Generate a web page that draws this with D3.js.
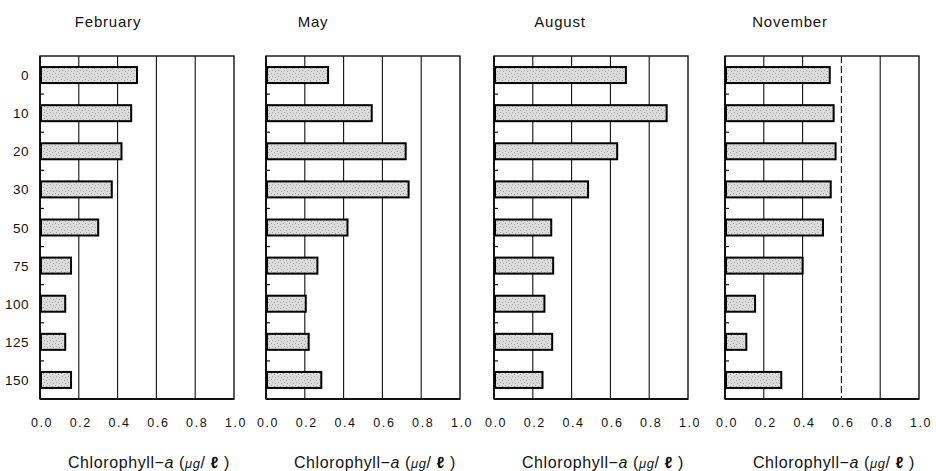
<!DOCTYPE html>
<html>
<head>
<meta charset="utf-8">
<script src="https://cdn.jsdelivr.net/npm/d3@7"></script>
<style>
  body { margin: 0; background: #fff; }
  svg { display: block; }
</style>
</head>
<body>
<div class="container"></div>
<script>
// Data: depth (m) and chlorophyll-a per month
const depths = ["0", "10", "20", "30", "50", "75", "100", "125", "150"];
const months = ["February", "May", "August", "November"];
const february = [0.50, 0.47, 0.42, 0.37, 0.30, 0.16, 0.13, 0.13, 0.16];
const may      = [0.32, 0.545, 0.72, 0.735, 0.42, 0.265, 0.205, 0.22, 0.285];
const august   = [0.68, 0.89, 0.635, 0.485, 0.295, 0.305, 0.26, 0.30, 0.25];
const november = [0.54, 0.56, 0.57, 0.545, 0.505, 0.40, 0.155, 0.11, 0.29];
const xTicks = [0, 0.2, 0.4, 0.6, 0.8, 1.0];

const series = [february, may, august, november];

// Layout
const W = 936, H = 471;
const panelLeft = [40, 266, 494, 725];
const titleX = [108, 313, 560, 790];
const panelW = 194;
const plotTop = 56, plotBottom = 399;

const svg = d3.select(".container")
  .append("svg")
    .attr("width", W)
    .attr("height", H);

// Stipple pattern for the bars
const pat = svg.append("defs").append("pattern")
    .attr("id", "stipple")
    .attr("width", 6)
    .attr("height", 6)
    .attr("patternUnits", "userSpaceOnUse");
pat.append("rect").attr("width", 6).attr("height", 6).attr("fill", "#dcdcdc");
[[1, 1], [4, 2], [2, 4], [5, 5]].forEach(p => {
  pat.append("rect").attr("x", p[0]).attr("y", p[1])
    .attr("width", 1).attr("height", 1).attr("fill", "#a0a0a0");
});

const yScale = d3.scaleBand()
  .domain(depths)
  .range([plotTop, plotBottom])
  .paddingInner(0.58)
  .paddingOuter(0.29);

const font = "'Liberation Sans', Arial, sans-serif";

series.forEach((values, i) => {
  const x0 = panelLeft[i];
  const xScale = d3.scaleLinear()
    .domain([0, 1])
    .range([x0, x0 + panelW]);

  const g = svg.append("g");

  // Vertical grid lines
  g.selectAll(".grid")
    .data(xTicks.slice(1, -1))
    .join("line")
      .attr("x1", d => xScale(d))
      .attr("x2", d => xScale(d))
      .attr("y1", plotTop)
      .attr("y2", plotBottom)
      .attr("stroke", "#111")
      .attr("stroke-width", 1.1)
      .attr("stroke-dasharray", (d) => (i === 3 && d === 0.6) ? "7,3" : null);

  // Frame
  g.append("rect")
    .attr("x", xScale(0))
    .attr("y", plotTop)
    .attr("width", panelW)
    .attr("height", plotBottom - plotTop)
    .attr("fill", "none")
    .attr("stroke", "#111")
    .attr("stroke-width", 1.4);

  g.append("line")
    .attr("x1", xScale(0)).attr("x2", xScale(0))
    .attr("y1", plotTop).attr("y2", plotBottom)
    .attr("stroke", "#111").attr("stroke-width", 2);
  g.append("line")
    .attr("x1", xScale(0)).attr("x2", xScale(1))
    .attr("y1", plotBottom).attr("y2", plotBottom)
    .attr("stroke", "#111").attr("stroke-width", 2);

  // Minor ticks between bars
  const step = yScale.step();
  g.selectAll(".minor")
    .data(depths.slice(1))
    .join("line")
      .attr("x1", xScale(0))
      .attr("x2", xScale(0) + 4)
      .attr("y1", d => yScale(d) - step * 0.29)
      .attr("y2", d => yScale(d) - step * 0.29)
      .attr("stroke", "#111")
      .attr("stroke-width", 1.2);

  // Bars
  g.selectAll(".bar")
    .data(values)
    .join("rect")
      .attr("x", xScale(0) + 1)
      .attr("y", (d, j) => yScale(depths[j]))
      .attr("width", d => xScale(d) - xScale(0) - 1)
      .attr("height", yScale.bandwidth())
      .attr("fill", "url(#stipple)")
      .attr("stroke", "#000")
      .attr("stroke-width", 2);

  // X tick labels
  g.selectAll(".xlab")
    .data(xTicks)
    .join("text")
      .text(d => d3.format(".1f")(d))
      .attr("x", d => xScale(d) + 2)
      .attr("y", 427)
      .attr("text-anchor", "middle")
      .style("font-family", font)
      .style("font-size", "12.5px")
      .style("letter-spacing", "1.6px")
      .attr("fill", "#111");

  // Month title
  g.append("text")
    .text(months[i])
    .attr("x", titleX[i])
    .attr("y", 27)
    .attr("text-anchor", "middle")
    .style("font-family", font)
    .style("font-size", "15px")
    .style("letter-spacing", "0.8px")
    .attr("fill", "#111");

  // Axis title
  const t = g.append("text")
    .attr("x", (xScale(0) + xScale(1)) / 2 + 12)
    .attr("y", 468)
    .attr("text-anchor", "middle")
    .style("font-family", font)
    .style("font-size", "16px")
    .style("letter-spacing", "0.6px")
    .attr("fill", "#111");
  t.append("tspan").text("Chlorophyll\u2212");
  t.append("tspan").text("a").style("font-style", "italic");
  t.append("tspan").text(" (");
  t.append("tspan").text("\u03bcg").style("font-style", "italic").style("font-size", "13px");
  t.append("tspan").text("/ ");
  t.append("tspan").text("\u2113").style("font-weight", "bold");
  t.append("tspan").text(" )");
});

// Depth labels on the first panel
svg.selectAll(".ylab")
  .data(depths)
  .join("text")
    .text(d => d)
    .attr("x", 29)
    .attr("y", d => yScale(d) + yScale.bandwidth() / 2 + 5)
    .attr("text-anchor", "end")
    .style("font-family", font)
    .style("font-size", "13.5px")
    .style("letter-spacing", "0.5px")
    .attr("fill", "#111");
</script>
</body>
</html>
